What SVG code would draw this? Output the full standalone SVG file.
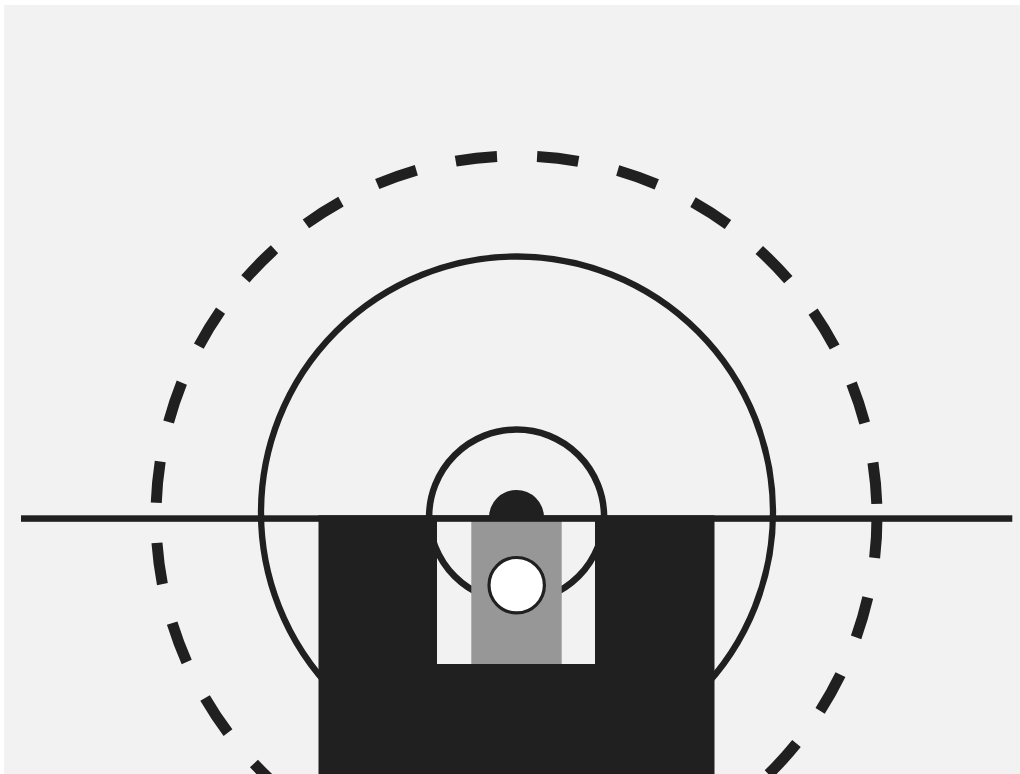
<svg xmlns="http://www.w3.org/2000/svg" width="1020" height="774" viewBox="0 0 1020 774">
<style>
.k{fill:none;stroke:#202020}
.o{fill:#202020}
</style>
<rect width="1020" height="774" fill="#fff"/>
<rect x="4" y="5" width="1016" height="769" fill="#f2f2f2"/>
<circle id="dashed-ring" class="k" cx="516.5" cy="516.5" r="360.5" stroke-width="11" stroke-dasharray="41.5 40.35"/>
<circle id="middle-ring" class="k" cx="517" cy="512.5" r="256" stroke-width="6.300"/>
<rect id="block" class="o" x="318.500" y="515.300" width="396" height="258.700"/>
<rect id="window" x="437" y="521" width="158" height="143" fill="#f2f2f2"/>
<path id="inner-ring" class="k" stroke-width="6.500" d="M429.100 517A87.500 87.500 0 0 1 604.100 517M429.100 514.500A87.500 87.500 0 0 0 604.100 514.500"/>
<rect id="block-left" class="o" x="420" y="521" width="17" height="143"/>
<rect id="block-right" class="o" x="595" y="521" width="17" height="143"/>
<circle id="dome" class="o" cx="516.500" cy="517.500" r="27.500"/>
<rect id="strip" x="471.300" y="521" width="90.400" height="143" fill="#979797"/>
<rect id="axis" class="o" x="21" y="515.300" width="991.300" height="6.500"/>
<circle id="hub" cx="516.700" cy="585.200" r="27.700" fill="#fff" stroke="#202020" stroke-width="3.200"/>
</svg>
